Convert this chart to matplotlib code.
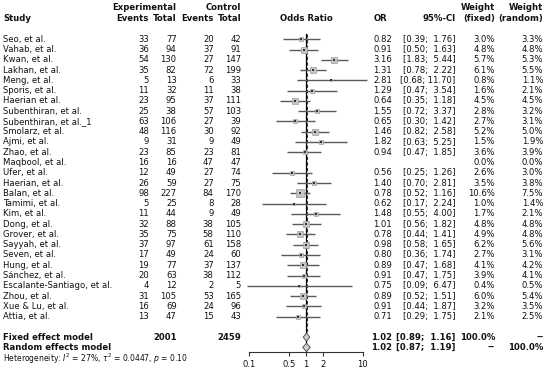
import numpy as np
import matplotlib
matplotlib.use("Agg")
import matplotlib.pyplot as plt

studies = ["Seo, et al.", "Vahab, et al.", "Kwan, et al.", "Lakhan, et al.", "Meng, et al.",
           "Sporis, et al.", "Haerian et al.", "Subenthiran, et al.", "Subenthiran, et al._1",
           "Smolarz, et al.", "Ajmi, et al.", "Zhao, et al.", "Maqbool, et al.", "Ufer, et al.",
           "Haerian, et al.", "Balan, et al.", "Tamimi, et al.", "Kim, et al.", "Dong, et al.",
           "Grover, et al.", "Sayyah, et al.", "Seven, et al.", "Hung, et al.", "Sánchez, et al.",
           "Escalante-Santiago, et al.", "Zhou, et al.", "Xue & Lu, et al.", "Attia, et al."]
exp_events = [33, 36, 54, 35, 5, 11, 23, 25, 63, 48, 9, 23, 16, 12, 26, 98, 5, 11, 32, 35, 37, 17, 19, 20, 4, 31, 16, 13]
exp_total = [77, 94, 130, 82, 13, 32, 95, 38, 106, 116, 31, 85, 16, 49, 59, 227, 25, 44, 88, 75, 97, 49, 77, 63, 12, 105, 69, 47]
ctrl_events = [20, 37, 27, 72, 6, 11, 37, 57, 27, 30, 9, 23, 47, 27, 27, 84, 8, 9, 38, 58, 61, 24, 37, 38, 2, 53, 24, 15]
ctrl_total = [42, 91, 147, 199, 33, 38, 111, 103, 39, 92, 49, 81, 47, 74, 75, 170, 28, 49, 105, 110, 158, 60, 137, 112, 5, 165, 96, 43]
odds_ratio = [0.82, 0.91, 3.16, 1.31, 2.81, 1.29, 0.64, 1.55, 0.65, 1.46, 1.82, 0.94, np.nan, 0.56, 1.40, 0.78,
              0.62, 1.48, 1.01, 0.78, 0.98, 0.80, 0.89, 0.91, 0.75, 0.89, 0.91, 0.71]
ci_low = [0.39, 0.50, 1.83, 0.78, 0.68, 0.47, 0.35, 0.72, 0.30, 0.82, 0.63, 0.47, np.nan, 0.25, 0.70, 0.52,
          0.17, 0.55, 0.56, 0.44, 0.58, 0.36, 0.47, 0.47, 0.09, 0.52, 0.44, 0.29]
ci_high = [1.76, 1.63, 5.44, 2.22, 11.70, 3.54, 1.18, 3.37, 1.42, 2.58, 5.25, 1.85, np.nan, 1.26, 2.81, 1.16,
           2.24, 4.00, 1.82, 1.41, 1.65, 1.74, 1.68, 1.75, 6.47, 1.51, 1.87, 1.75]
w_fixed = [3.0, 4.8, 5.7, 6.1, 0.8, 1.6, 4.5, 2.8, 2.7, 5.2, 1.5, 3.6, 0.0, 2.6, 3.5, 10.6, 1.0, 1.7, 4.8, 4.9,
           6.2, 2.7, 4.1, 3.9, 0.4, 6.0, 3.2, 2.1]
w_random = [3.3, 4.8, 5.3, 5.5, 1.1, 2.1, 4.5, 3.2, 3.1, 5.0, 1.9, 3.9, 0.0, 3.0, 3.8, 7.5, 1.4, 2.1, 4.8, 4.8,
            5.6, 3.1, 4.2, 4.1, 0.5, 5.4, 3.5, 2.5]
exp_sum, ctrl_sum = 2001, 2459
fixed_est, fixed_lo, fixed_hi = 1.02, 0.89, 1.16
random_est, random_lo, random_hi = 1.02, 0.87, 1.19
tick_values = [0.1, 0.5, 1, 2, 10]
tick_labels = ["0.1", "0.5", "1", "2", "10"]
het_text = r"Heterogeneity: $I^2$ = 27%, $\tau^2$ = 0.0447, $p$ = 0.10"

W, H = 550, 374
fig = plt.figure(figsize=(W / 100, H / 100), dpi=100)

ROW0 = 39.3   # px of first study row
DY = 10.27    # px per row
def px_to_row(px):
    return (px - ROW0) / DY

tax = fig.add_axes([0, 0, 1, 1])
tax.set_xlim(0, W)
tax.set_ylim(px_to_row(H), px_to_row(0))
tax.axis("off")

FS = 6.1
TC = "#111111"
def t(x, y, s, ha="right", bold=False, fs=FS):
    tax.text(x, y, s, ha=ha, va="center", fontsize=fs, color=TC,
             fontweight="bold" if bold else "normal")

X_STUDY, X_EE, X_ET, X_CE, X_CT = 3, 149, 176.7, 213.7, 241
X_OR, X_CI, X_WF, X_WR = 392.3, 455.7, 495, 543.3

h1, h2 = px_to_row(7.5), px_to_row(18.7)
t(X_ET, h1, "Experimental", bold=True)
t(X_CT, h1, "Control", bold=True)
t(X_WF, h1, "Weight", bold=True)
t(X_WR, h1, "Weight", bold=True)
t(X_STUDY, h2, "Study", ha="left", bold=True)
t(X_EE, h2, "Events", bold=True)
t(X_ET, h2, "Total", bold=True)
t(X_CE, h2, "Events", bold=True)
t(X_CT, h2, "Total", bold=True)
t(306, h2, "Odds Ratio", ha="center", bold=True)
t(387, h2, "OR", bold=True)
t(X_CI, h2, "95%-CI", bold=True)
t(X_WF, h2, "(fixed)", bold=True)
t(X_WR, h2, "(random)", bold=True)

n = len(studies)
for i in range(n):
    t(X_STUDY, i, studies[i], ha="left")
    t(X_EE, i, str(exp_events[i]))
    t(X_ET, i, str(exp_total[i]))
    t(X_CE, i, str(ctrl_events[i]))
    t(X_CT, i, str(ctrl_total[i]))
    if not np.isnan(odds_ratio[i]):
        t(X_OR, i, f"{odds_ratio[i]:.2f}")
        if ci_high[i] < 10:
            ci_txt = f"[{ci_low[i]:.2f};  {ci_high[i]:.2f}]"
        else:
            ci_txt = f"[{ci_low[i]:.2f}; {ci_high[i]:.2f}]"
        t(X_CI, i, ci_txt)
    t(X_WF, i, f"{w_fixed[i]:.1f}%")
    t(X_WR, i, f"{w_random[i]:.1f}%")

rf, rr = n + 1, n + 2
t(X_STUDY, rf, "Fixed effect model", ha="left", bold=True)
t(X_STUDY, rr, "Random effects model", ha="left", bold=True)
t(X_ET, rf, str(exp_sum), bold=True)
t(X_CT, rf, str(ctrl_sum), bold=True)
t(X_OR, rf, f"{fixed_est:.2f}", bold=True)
t(X_CI, rf, f"[{fixed_lo:.2f};  {fixed_hi:.2f}]", bold=True)
t(X_WF, rf, "100.0%", bold=True)
t(X_WR, rf, "--", bold=True)
t(X_OR, rr, f"{random_est:.2f}", bold=True)
t(X_CI, rr, f"[{random_lo:.2f};  {random_hi:.2f}]", bold=True)
t(X_WF, rr, "--", bold=True)
t(X_WR, rr, "100.0%", bold=True)
tax.text(X_STUDY, px_to_row(358.5), het_text, ha="left", va="center", fontsize=5.5, color=TC)

# forest axes
AX_L, AX_R, AX_B = 249.4, 362.7, 352.3
fax = fig.add_axes([AX_L / W, (H - AX_B) / H, (AX_R - AX_L) / W, AX_B / H])
fax.set_xscale("log")
fax.set_xlim(0.1, 10)
fax.set_ylim(px_to_row(AX_B), px_to_row(0))
fax.patch.set_alpha(0)
for s in ["top", "left", "right"]:
    fax.spines[s].set_visible(False)
fax.spines["bottom"].set_linewidth(0.8)
fax.spines["bottom"].set_color("#333333")
fax.set_yticks([])
fax.set_xticks(tick_values)
fax.set_xticklabels(tick_labels)
fax.xaxis.set_minor_locator(matplotlib.ticker.NullLocator())
fax.tick_params(axis="x", direction="out", length=3.2, width=0.8, color="#333333",
                labelsize=FS, pad=2.5, labelcolor=TC)

top = px_to_row(34)
fax.plot([1, 1], [top, px_to_row(AX_B)], color="black", lw=0.9, clip_on=False, zorder=1)
fax.plot([fixed_est, fixed_est], [top, rf - 0.4], color="#333333", lw=0.8, ls=(0, (3, 2)), zorder=1)

valid = [i for i in range(n) if not np.isnan(odds_ratio[i])]
for i in valid:
    fax.plot([ci_low[i], ci_high[i]], [float(i), float(i)], color="#5a5a5a", lw=1.0,
             solid_capstyle="butt", zorder=2, clip_on=False)
    ms = 1.8 * np.sqrt(w_fixed[i])
    fax.plot(odds_ratio[i], i, marker="s", ms=ms, mfc="#c4c4c4", mec="#a0a0a0", mew=0.5, ls="none", zorder=3)
    fax.plot(odds_ratio[i], i, marker="s", ms=1.6, mfc="#333333", mec="#333333", mew=0, ls="none", zorder=4)

for r, est, lo, hi in [(rf, fixed_est, fixed_lo, fixed_hi), (rr, random_est, random_lo, random_hi)]:
    fax.fill([lo, est, hi, est], [r, r - 0.4, r, r + 0.4], facecolor="#d0d0d0", edgecolor="#555555",
             lw=0.7, zorder=5)

fig.savefig("out.png", dpi=100)
